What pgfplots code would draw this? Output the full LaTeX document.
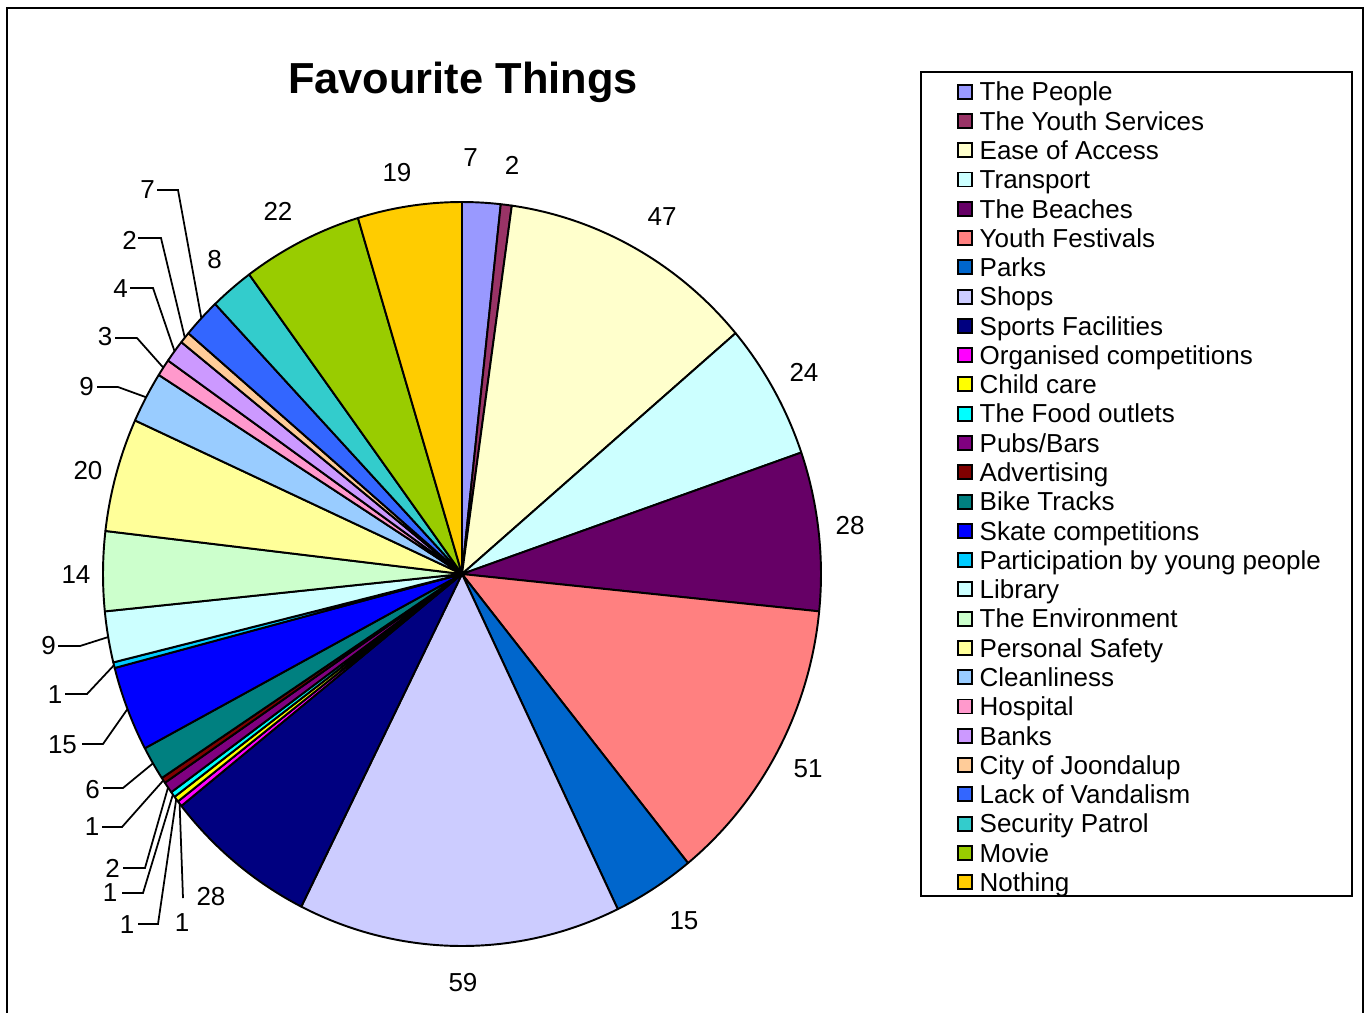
\documentclass[border=0pt]{standalone}
\usepackage{pgfplots}
\pgfplotsset{compat=1.18}
\usepackage{pgfplotstable}
\usepackage{fontspec}
\setmainfont{Liberation Sans}

\definecolor{c1}{HTML}{9999FF}
\definecolor{c2}{HTML}{993366}
\definecolor{c3}{HTML}{FFFFCC}
\definecolor{c4}{HTML}{CCFFFF}
\definecolor{c5}{HTML}{660066}
\definecolor{c6}{HTML}{FF8080}
\definecolor{c7}{HTML}{0066CC}
\definecolor{c8}{HTML}{CCCCFF}
\definecolor{c9}{HTML}{000080}
\definecolor{c10}{HTML}{FF00FF}
\definecolor{c11}{HTML}{FFFF00}
\definecolor{c12}{HTML}{00FFFF}
\definecolor{c13}{HTML}{800080}
\definecolor{c14}{HTML}{800000}
\definecolor{c15}{HTML}{008080}
\definecolor{c16}{HTML}{0000FF}
\definecolor{c17}{HTML}{00CCFF}
\definecolor{c18}{HTML}{CCFFFF}
\definecolor{c19}{HTML}{CCFFCC}
\definecolor{c20}{HTML}{FFFF99}
\definecolor{c21}{HTML}{99CCFF}
\definecolor{c22}{HTML}{FF99CC}
\definecolor{c23}{HTML}{CC99FF}
\definecolor{c24}{HTML}{FFCC99}
\definecolor{c25}{HTML}{3366FF}
\definecolor{c26}{HTML}{33CCCC}
\definecolor{c27}{HTML}{99CC00}
\definecolor{c28}{HTML}{FFCC00}

% value, colour, leader flag, label centre (px), leader: start x, y, bend x (px)
\pgfplotstableread{
val col ld lx ly hxa hy hxb
7  c1  0 470.5 157.5 0 0 0
2  c2  0 512 165 0 0 0
47 c3  0 662 217 0 0 0
24 c4  0 804 372 0 0 0
28 c5  0 850 526 0 0 0
51 c6  0 808 769 0 0 0
15 c7  0 684 921 0 0 0
59 c8  0 463 983 0 0 0
28 c9  0 211 897 0 0 0
1  c10 1 182 923 183 898 183
1  c11 1 127 925 138 924 158
1  c12 1 110 893 122 893 143
2  c13 1 112.5 868 123 868 145
1  c14 1 92 827 102 827 122
6  c15 1 92.5 790 103 788 123
15 c16 1 62.5 745 82 744 103
1  c17 1 55 695 65 694 87
9  c18 1 48.5 646 58 646 80
14 c19 0 76 575 0 0 0
20 c20 0 88 471 0 0 0
9  c21 1 86.5 387 97 387 118
3  c22 1 105 337 115 338 137
4  c23 1 120.5 289 130 288 153
2  c24 1 129.5 240 138 238 161
7  c25 1 147.5 190 157 190 178
8  c26 0 214.5 260 0 0 0
22 c27 0 278 211 0 0 0
19 c28 0 397 173 0 0 0
}\slices

\newcommand\lbl{\fontsize{7.4pt}{8.8pt}\selectfont}
\newcommand\pcx{462}
\newcommand\pcy{574}
\newcommand\prx{359}
\newcommand\pry{372}

\begin{document}
\begin{tikzpicture}
\begin{axis}[
  at={(0,0)}, anchor=south west,
  scale only axis, width=136.5mm, height=101.2mm,
  xmin=0, xmax=1365, ymin=0, ymax=1012, y dir=reverse,
  hide axis, clip=false,
  legend cell align=left,
  legend style={draw=none, fill=none, at={(axis cs:957,77)}, anchor=north west,
    inner sep=0pt, outer sep=0pt, row sep=0pt, column sep=0pt,
    nodes={inner sep=0pt, outer sep=0pt, text height=6.8pt, text depth=1.53pt, font=\lbl}},
  legend image code/.code={\draw[line width=0.55pt,#1] (0mm,-0.7mm) rectangle (1.4mm,0.7mm); \path (2.1mm,0mm);},
]
% outer frame and legend box
\draw[line width=0.65pt] (axis cs:7,1016) -- (axis cs:7,8) -- (axis cs:1363,8) -- (axis cs:1363,1016);
\draw[line width=0.5pt] (axis cs:921,72) rectangle (axis cs:1352,896);
\node[font=\bfseries\fontsize{12.35pt}{14pt}\selectfont, anchor=base] at (axis cs:463,93.3) {Favourite Things};

\pgfplotstablegetrowsof{\slices}
\pgfmathtruncatemacro\nrows{\pgfplotsretval-1}
% total
\def\total{0}
\pgfplotsforeachungrouped \i in {0,...,\nrows}{%
  \pgfplotstablegetelem{\i}{val}\of\slices
  \pgfmathsetmacro\total{\total+\pgfplotsretval}%
}
\def\cum{0}
\pgfplotsforeachungrouped \i in {0,...,\nrows}{%
  \pgfplotstablegetelem{\i}{val}\of\slices \let\slval\pgfplotsretval
  \pgfplotstablegetelem{\i}{col}\of\slices \let\slcol\pgfplotsretval
  \pgfplotstablegetelem{\i}{ld}\of\slices \let\slld\pgfplotsretval
  \pgfplotstablegetelem{\i}{lx}\of\slices \let\sllx\pgfplotsretval
  \pgfplotstablegetelem{\i}{ly}\of\slices \let\slly\pgfplotsretval
  \pgfplotstablegetelem{\i}{hxa}\of\slices \let\slhxa\pgfplotsretval
  \pgfplotstablegetelem{\i}{hy}\of\slices \let\slhy\pgfplotsretval
  \pgfplotstablegetelem{\i}{hxb}\of\slices \let\slhxb\pgfplotsretval
  \pgfmathsetmacro\aA{90-360*(\cum/\total)}%
  \pgfmathsetmacro\cumB{\cum+\slval}%
  \pgfmathsetmacro\aB{90-360*(\cumB/\total)}%
  \pgfmathsetmacro\am{(\aA+\aB)/2}%
  \pgfmathsetmacro\px{\pcx+\prx*cos(\aA)}%
  \pgfmathsetmacro\py{\pcy-\pry*sin(\aA)}%
  \pgfmathsetmacro\rmx{\pcx+\prx*cos(\am)}%
  \pgfmathsetmacro\rmy{\pcy-\pry*sin(\am)}%
  \edef\cmd{\noexpand\filldraw[fill=\slcol, draw=black, line width=0.55pt, line join=round]
     (axis cs:\pcx,\pcy) -- (axis cs:\px,\py)
     arc[start angle=\aA, end angle=\aB, x radius=35.9mm, y radius=37.2mm] -- cycle;
     \noexpand\node[font=\noexpand\lbl, inner sep=0pt] at (axis cs:\sllx,\slly) {\slval};}%
  \cmd
  \ifnum\slld=1
    \edef\cmd{\noexpand\draw[line width=0.5pt] (axis cs:\slhxa,\slhy) -- (axis cs:\slhxb,\slhy) -- (axis cs:\rmx,\rmy);}%
    \cmd
  \fi
  \let\cum\cumB
}

\addlegendimage{fill=c1, draw=black}\addlegendentry{The People}
\addlegendimage{fill=c2, draw=black}\addlegendentry{The Youth Services}
\addlegendimage{fill=c3, draw=black}\addlegendentry{Ease of Access}
\addlegendimage{fill=c4, draw=black}\addlegendentry{Transport}
\addlegendimage{fill=c5, draw=black}\addlegendentry{The Beaches}
\addlegendimage{fill=c6, draw=black}\addlegendentry{Youth Festivals}
\addlegendimage{fill=c7, draw=black}\addlegendentry{Parks}
\addlegendimage{fill=c8, draw=black}\addlegendentry{Shops}
\addlegendimage{fill=c9, draw=black}\addlegendentry{Sports Facilities}
\addlegendimage{fill=c10, draw=black}\addlegendentry{Organised competitions}
\addlegendimage{fill=c11, draw=black}\addlegendentry{Child care}
\addlegendimage{fill=c12, draw=black}\addlegendentry{The Food outlets}
\addlegendimage{fill=c13, draw=black}\addlegendentry{Pubs/Bars}
\addlegendimage{fill=c14, draw=black}\addlegendentry{Advertising}
\addlegendimage{fill=c15, draw=black}\addlegendentry{Bike Tracks}
\addlegendimage{fill=c16, draw=black}\addlegendentry{Skate competitions}
\addlegendimage{fill=c17, draw=black}\addlegendentry{Participation by young people}
\addlegendimage{fill=c18, draw=black}\addlegendentry{Library}
\addlegendimage{fill=c19, draw=black}\addlegendentry{The Environment}
\addlegendimage{fill=c20, draw=black}\addlegendentry{Personal Safety}
\addlegendimage{fill=c21, draw=black}\addlegendentry{Cleanliness}
\addlegendimage{fill=c22, draw=black}\addlegendentry{Hospital}
\addlegendimage{fill=c23, draw=black}\addlegendentry{Banks}
\addlegendimage{fill=c24, draw=black}\addlegendentry{City of Joondalup}
\addlegendimage{fill=c25, draw=black}\addlegendentry{Lack of Vandalism}
\addlegendimage{fill=c26, draw=black}\addlegendentry{Security Patrol}
\addlegendimage{fill=c27, draw=black}\addlegendentry{Movie}
\addlegendimage{fill=c28, draw=black}\addlegendentry{Nothing}
\end{axis}
\pgfresetboundingbox
\path[use as bounding box] (0,0) rectangle (136.5mm,101.2mm);
\end{tikzpicture}
\end{document}
